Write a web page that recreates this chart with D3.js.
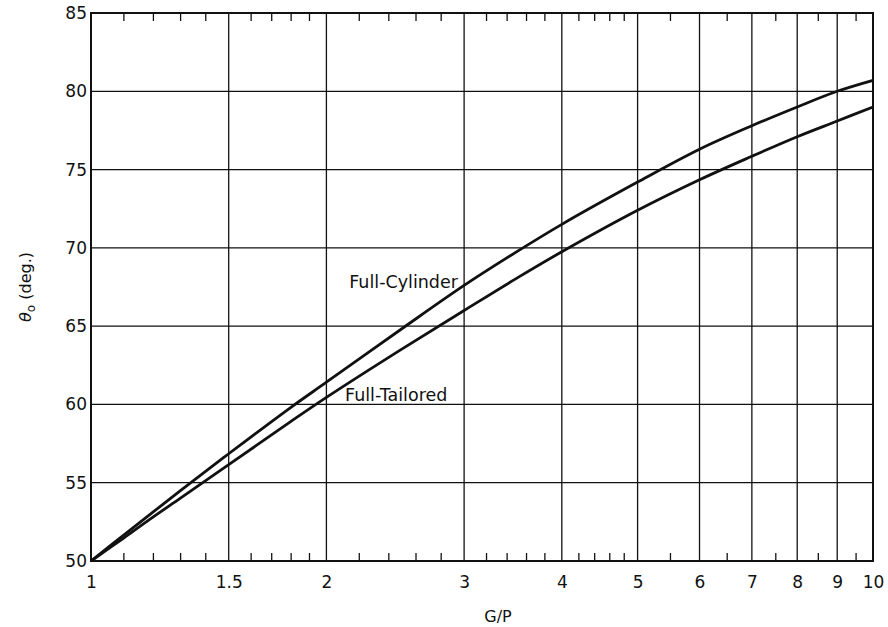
<!DOCTYPE html>
<html>
<head>
<meta charset="utf-8">
<script src="https://cdn.jsdelivr.net/npm/d3@7"></script>
<style>
  html, body { margin: 0; padding: 0; background: #fff; }
  svg { display: block; font-family: "DejaVu Sans", sans-serif; }
</style>
</head>
<body>
<svg id="chart" width="888" height="627"></svg>
<script>
// G/P values at which the two curves are sampled
const gpValues = [1, 1.1, 1.2, 1.3, 1.5, 1.8, 2, 2.5, 3, 3.5, 4, 5, 6, 7, 8, 9, 10];
// θo (deg.) for each configuration
const fullCylinder = [50, 51.64, 53.12, 54.48, 56.85, 59.8, 61.42, 64.85, 67.6, 69.74, 71.5, 74.2, 76.3, 77.8, 79.0, 80.0, 80.7];
const fullTailored = [50, 51.45, 52.8, 54.0, 56.15, 58.9, 60.45, 63.55, 66.0, 68.05, 69.75, 72.4, 74.35, 75.85, 77.1, 78.1, 79.0];

// Axis ticks
const gpMajorTicks = [1, 1.5, 2, 3, 4, 5, 6, 7, 8, 9, 10];
const gpMinorTicks = [1.1, 1.2, 1.3, 1.4, 1.6, 1.7, 1.8, 1.9, 2.2, 2.4, 2.6, 2.8,
                      3.2, 3.4, 3.6, 3.8, 4.2, 4.4, 4.6, 4.8, 5.5, 6.5, 7.5, 8.5, 9.5];
const thetaTicks = [50, 55, 60, 65, 70, 75, 80, 85];

// Curve labels: [text, G/P, θo, anchor]
const curveLabels = [
  ["Full-Cylinder", 2.946, 67.45, "end"],
  ["Full-Tailored", 2.113, 60.2, "start"]
];

const svg = d3.select("#chart");
const margin = { left: 91, right: 15, top: 13, bottom: 66 };
const W = 888, H = 627;

const x = d3.scaleLog().domain([1, 10]).range([margin.left, W - margin.right]);
const y = d3.scaleLinear().domain([50, 85]).range([H - margin.bottom, margin.top]);

const ink = "#111";

// Grid lines
const grid = svg.append("g");
grid.selectAll("line.vg")
  .data(gpMajorTicks.slice(1, -1))
  .join("line")
  .attr("x1", d => x(d)).attr("x2", d => x(d))
  .attr("y1", y(50)).attr("y2", y(85))
  .attr("stroke", ink).attr("stroke-width", 1.3);
grid.selectAll("line.hg")
  .data(thetaTicks.slice(1, -1))
  .join("line")
  .attr("x1", x(1)).attr("x2", x(10))
  .attr("y1", d => y(d)).attr("y2", d => y(d))
  .attr("stroke", ink).attr("stroke-width", 1.3);

// Minor ticks on bottom and top edges, pointing inward
const tickLen = 8;
const bottomAxis = d3.axisBottom(x).tickValues(gpMinorTicks).tickSize(-tickLen).tickFormat("");
const topAxis = d3.axisTop(x).tickValues(gpMinorTicks).tickSize(-tickLen).tickFormat("");
const gb = svg.append("g").attr("transform", `translate(0,${y(50)})`).call(bottomAxis);
const gt = svg.append("g").attr("transform", `translate(0,${y(85)})`).call(topAxis);
[gb, gt].forEach(g => {
  g.select(".domain").remove();
  g.selectAll(".tick line").attr("stroke", ink).attr("stroke-width", 1.3);
});

// X tick labels
const xLabels = d3.axisBottom(x).tickValues(gpMajorTicks).tickSize(0).tickPadding(15)
  .tickFormat(d => String(d));
const gxl = svg.append("g").attr("transform", `translate(0,${y(50)})`).call(xLabels);
gxl.select(".domain").remove();
gxl.selectAll("text").attr("font-family", "DejaVu Sans, sans-serif")
  .attr("font-size", 17).attr("fill", ink);

// Y tick labels
const yLabels = d3.axisLeft(y).tickValues(thetaTicks).tickSize(0).tickPadding(4)
  .tickFormat(d => String(d));
const gyl = svg.append("g").attr("transform", `translate(${x(1)},0)`).call(yLabels);
gyl.select(".domain").remove();
gyl.selectAll("text").attr("font-family", "DejaVu Sans, sans-serif")
  .attr("font-size", 17).attr("fill", ink);

// Frame
svg.append("rect")
  .attr("x", x(1)).attr("y", y(85))
  .attr("width", x(10) - x(1)).attr("height", y(50) - y(85))
  .attr("fill", "none").attr("stroke", ink).attr("stroke-width", 2);

// Curves
const line = d3.line()
  .x((d, i) => x(gpValues[i]))
  .y(d => y(d))
  .curve(d3.curveCatmullRom.alpha(0.5));

[fullCylinder, fullTailored].forEach(series => {
  svg.append("path")
    .attr("d", line(series))
    .attr("fill", "none")
    .attr("stroke", ink)
    .attr("stroke-width", 2.8)
    .attr("stroke-linejoin", "round");
});

// Curve labels
svg.selectAll("text.curve-label")
  .data(curveLabels)
  .join("text")
  .attr("class", "curve-label")
  .attr("x", d => x(d[1]))
  .attr("y", d => y(d[2]))
  .attr("text-anchor", d => d[3])
  .attr("font-size", 17.5)
  .attr("fill", ink)
  .text(d => d[0]);

// Axis titles
svg.append("text")
  .attr("x", 498).attr("y", 622)
  .attr("text-anchor", "middle")
  .attr("font-size", 16)
  .attr("fill", ink)
  .text("G/P");

const yt = svg.append("text")
  .attr("transform", `translate(31,${(y(50) + y(85)) / 2}) rotate(-90)`)
  .attr("text-anchor", "middle")
  .attr("font-size", 16)
  .attr("fill", ink);
yt.append("tspan").attr("font-style", "italic").text("θ");
yt.append("tspan").attr("font-size", 12).attr("dy", 4).text("o");
yt.append("tspan").attr("dy", -4).text(" (deg.)");
</script>
</body>
</html>
